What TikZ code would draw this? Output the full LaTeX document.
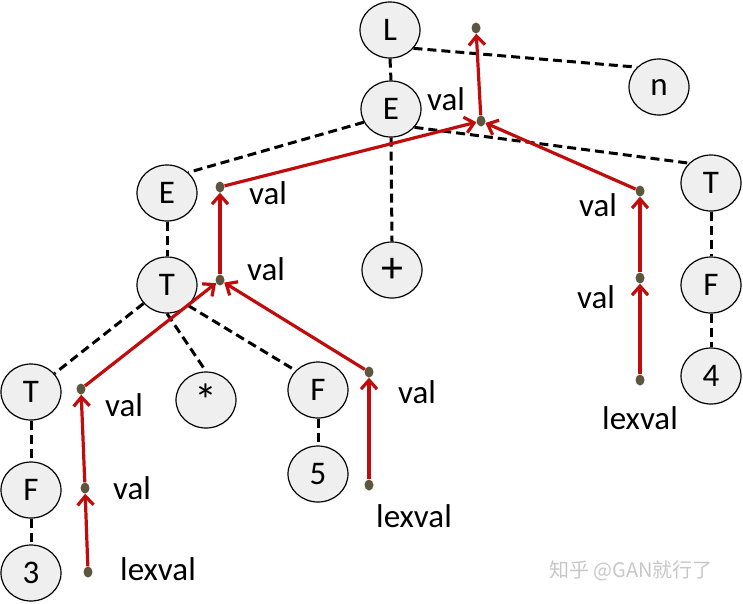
\documentclass[tikz,border=0pt]{standalone}
\usepackage{fontspec}
\setmainfont{Carlito}
\newfontfamily\cjk{Noto Sans CJK SC}
\usetikzlibrary{shapes.geometric,arrows.meta}
\definecolor{arrred}{RGB}{192,12,12}
\definecolor{dotc}{RGB}{92,86,62}
\definecolor{nodefill}{RGB}{239,239,239}
\begin{document}
\begin{tikzpicture}[x=1pt,y=-1pt,
  pnode/.style={ellipse, draw=black, line width=1.2pt, fill=nodefill, minimum width=60pt, minimum height=56pt, inner sep=0pt, font=\fontsize{33}{36}\selectfont},
  dotn/.style={ellipse, fill=dotc, minimum width=9pt, minimum height=11pt, inner sep=0pt},
  lbl/.style={inner sep=0pt, font=\fontsize{33}{36}\selectfont},
  tree/.style={draw=black, line width=3pt, dash pattern=on 9pt off 5pt},
  flow/.style={draw=arrred, line width=3.2pt, -{Straight Barb[length=9pt,width=16pt]}}]
\useasboundingbox (0,0) rectangle (743,603);
% tree nodes
\node[pnode] (L) at (390,30) {L};
\node[pnode] (n) at (659,87) {n};
\node[pnode] (E1) at (391,109) {E};
\node[pnode] (T1) at (711,183) {T};
\node[pnode] (E2) at (167,193) {E};
\node[pnode, font=\fontsize{44}{48}\selectfont] (plus) at (392,270) {+};
\node[pnode] (F1) at (711,285) {F};
\node[pnode] (T2) at (167,285) {T};
\node[pnode] (four) at (711,376) {4};
\node[pnode] (Tb) at (31,392) {T};
\node[pnode, font=\fontsize{46}{48}\selectfont] (star) at (206,400) {\raisebox{-13pt}{*}};
\node[pnode] (Fm) at (318,390) {F};
\node[pnode] (five) at (318,474) {5};
\node[pnode] (Fb) at (31,490) {F};
\node[pnode] (three) at (31,573) {3};
% tree edges
\draw[tree] (L.south) -- (E1.north);
\draw[tree] (L.-38) -- (n.138);
\draw[tree] (E1.206) -- (E2.44);
\draw[tree] (E1.south) -- (plus.north);
\draw[tree] (E1.-38) -- (T1.138);
\draw[tree] (T1.south) -- (F1.north);
\draw[tree] (F1.south) -- (four.north);
\draw[tree] (E2.south) -- (T2.north);
\draw[tree] (T2) -- (Tb);
\draw[tree] (T2.south) -- (star.north);
\draw[tree] (T2.-44) -- (Fm.139);
\draw[tree] (Fm.south) -- (five.north);
\draw[tree] (Tb.south) -- (Fb.north);
\draw[tree] (Fb.south) -- (three.north);
% dots
\node[dotn] (d1) at (476,28) {};
\node[dotn] (d2) at (481,121) {};
\node[dotn] (d3) at (220,187) {};
\node[dotn] (d4) at (220,280) {};
\node[dotn] (d5) at (640,191) {};
\node[dotn] (d6) at (640,278) {};
\node[dotn] (d7) at (640,380) {};
\node[dotn] (d8) at (81,389) {};
\node[dotn] (d9) at (85,488) {};
\node[dotn] (d10) at (88,572) {};
\node[dotn] (d11) at (369,372) {};
\node[dotn] (d12) at (369,485) {};
% flow arrows
\draw[flow] (d2) -- (d1);
\draw[flow] (d3) -- (d2);
\draw[flow] (d5) -- (d2);
\draw[flow] (d4) -- (d3);
\draw[flow] (d8) -- (d4);
\draw[flow] (d11) -- (d4);
\draw[flow] (d9) -- (d8);
\draw[flow] (d10) -- (d9);
\draw[flow] (d12) -- (d11);
\draw[flow] (d6) -- (d5);
\draw[flow] (d7) -- (d6);
% labels
\node[lbl] (v1) at (446,99) {val};
\node[lbl] (v2) at (268,193) {val};
\node[lbl] (v3) at (266,269) {val};
\node[lbl] (v4) at (598,205) {val};
\node[lbl] (v5) at (596,297) {val};
\node[lbl] (lx1) at (640,418) {lexval};
\node[lbl] (v6) at (124,405) {val};
\node[lbl] (v7) at (132,488) {val};
\node[lbl] (lx2) at (158,569) {lexval};
\node[lbl] (v8) at (417,392) {val};
\node[lbl] (lx3) at (414,516) {lexval};
% watermark
\node[inner sep=0pt, text=black!22, font=\cjk\fontsize{20}{24}\selectfont] (wm) at (631,571) {知乎 @GAN就行了};
\end{tikzpicture}
\end{document}
